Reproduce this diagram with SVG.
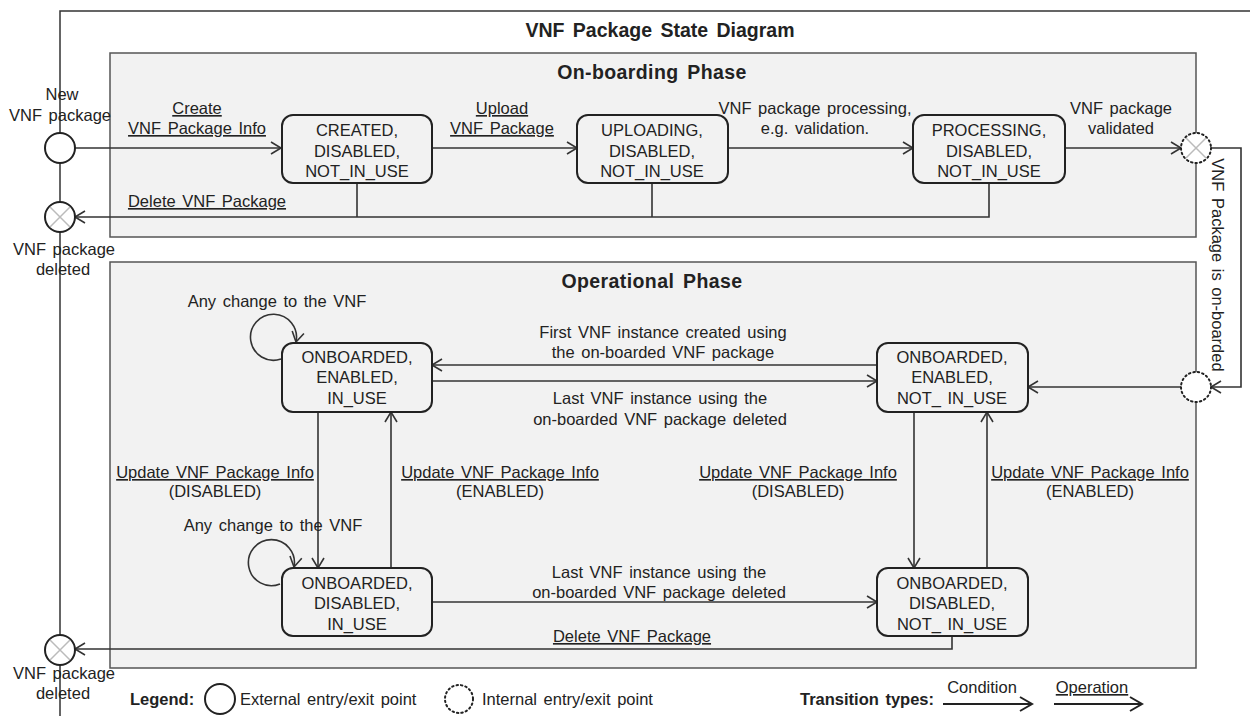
<svg xmlns="http://www.w3.org/2000/svg" width="1250" height="716" viewBox="0 0 1250 716">
<style>
.t{font-family:"Liberation Sans",Arial,sans-serif;font-size:16.5px;word-spacing:2px;fill:#222;text-anchor:middle}
.b{font-weight:bold;font-size:19.5px;word-spacing:3px}
.p{letter-spacing:0.4px}
.u{text-decoration:underline}
.l{text-anchor:start}
.phase{fill:#f2f2f2;stroke:#555;stroke-width:1.5}
.st{fill:#f2f2f2;stroke:#222;stroke-width:2}
.c{fill:none;stroke:#333;stroke-width:1.6}
.ext{fill:#fff;stroke:#222;stroke-width:2}
.int{fill:#fff;stroke:#222;stroke-width:2;stroke-dasharray:1.5 3;stroke-linecap:round}
.x{stroke:#bbb;stroke-width:1.5}
</style>
<defs>
<marker id="a" markerWidth="14" markerHeight="14" refX="12" refY="7" orient="auto" markerUnits="userSpaceOnUse">
<path d="M2,1 L12,7 L2,13" fill="none" stroke="#333" stroke-width="1.6"/>
</marker>
<marker id="a2" markerWidth="16" markerHeight="16" refX="14" refY="8" orient="auto" markerUnits="userSpaceOnUse">
<path d="M2,1 L14,8 L2,15" fill="none" stroke="#222" stroke-width="2"/>
</marker>
</defs>
<rect width="1250" height="716" fill="#fff"/>
<!-- frame -->
<g id="frame">
<path d="M60,716 L60,11 L1250,11" fill="none" stroke="#333" stroke-width="1.5"/>
<text class="t b" x="660" y="37">VNF Package State Diagram</text>
</g>
<!-- phases -->
<g id="onboarding-phase">
<rect class="phase" x="110" y="53" width="1086" height="184"/>
<text class="t b p" x="652" y="79">On-boarding Phase</text>
</g>
<g id="operational-phase">
<rect class="phase" x="110" y="262" width="1086" height="406"/>
<text class="t b p" x="652" y="288">Operational Phase</text>
</g>
<!-- connectors -->
<g id="connectors">
<line class="c" x1="75" y1="148" x2="281" y2="148" marker-end="url(#a)"/>
<line class="c" x1="432" y1="148" x2="577" y2="148" marker-end="url(#a)"/>
<line class="c" x1="728" y1="148" x2="913" y2="148" marker-end="url(#a)"/>
<line class="c" x1="1065" y1="148" x2="1181" y2="148" marker-end="url(#a)"/>
<path class="c" d="M1211,148 L1241,148 L1241,387 L1211,387" marker-end="url(#a)"/>
<line class="c" x1="1181" y1="387" x2="1028" y2="387" marker-end="url(#a)"/>
<path class="c" d="M357,183 L357,217 M652,183 L652,217 M989,183 L989,217 L75,217" marker-end="url(#a)"/>
<line class="c" x1="877" y1="365" x2="432" y2="365" marker-end="url(#a)"/>
<line class="c" x1="432" y1="381" x2="877" y2="381" marker-end="url(#a)"/>
<line class="c" x1="318" y1="412" x2="318" y2="568" marker-end="url(#a)"/>
<line class="c" x1="391" y1="568" x2="391" y2="412" marker-end="url(#a)"/>
<line class="c" x1="914" y1="412" x2="914" y2="568" marker-end="url(#a)"/>
<line class="c" x1="987" y1="568" x2="987" y2="412" marker-end="url(#a)"/>
<line class="c" x1="432" y1="602" x2="877" y2="602" marker-end="url(#a)"/>
<path class="c" d="M952,636 L952,649 L75,649" marker-end="url(#a)"/>
<path class="c" d="M281,359 A23,23 0 1 1 296,342" marker-end="url(#a)"/>
<path class="c" d="M280,584 A23,23 0 1 1 294,567" marker-end="url(#a)"/>
</g>
<!-- connector labels -->
<g id="labels">
<text class="t u" x="197" y="114">Create</text>
<text class="t u" x="197" y="134">VNF Package Info</text>
<text class="t u" x="502" y="114">Upload</text>
<text class="t u" x="502" y="134">VNF Package</text>
<text class="t" x="815" y="114">VNF package processing,</text>
<text class="t" x="815" y="134">e.g. validation.</text>
<text class="t" x="1121" y="114">VNF package</text>
<text class="t" x="1121" y="134">validated</text>
<text class="t u" x="207" y="207">Delete VNF Package</text>
<text class="t" x="1218" y="265" transform="rotate(90 1218 265)" dy="6">VNF Package is on-boarded</text>
<text class="t" x="277" y="307">Any change to the VNF</text>
<text class="t" x="663" y="338">First VNF instance created using</text>
<text class="t" x="663" y="358">the on-boarded VNF package</text>
<text class="t" x="660" y="404">Last VNF instance using the</text>
<text class="t" x="660" y="425">on-boarded VNF package deleted</text>
<text class="t u" x="215" y="478">Update VNF Package Info</text>
<text class="t" x="215" y="497">(DISABLED)</text>
<text class="t u" x="500" y="478">Update VNF Package Info</text>
<text class="t" x="500" y="497">(ENABLED)</text>
<text class="t u" x="798" y="478">Update VNF Package Info</text>
<text class="t" x="798" y="497">(DISABLED)</text>
<text class="t u" x="1090" y="478">Update VNF Package Info</text>
<text class="t" x="1090" y="497">(ENABLED)</text>
<text class="t" x="273" y="531">Any change to the VNF</text>
<text class="t" x="659" y="578">Last VNF instance using the</text>
<text class="t" x="659" y="598">on-boarded VNF package deleted</text>
<text class="t u" x="632" y="642">Delete VNF Package</text>
</g>
<!-- entry/exit points -->
<g id="new-package">
<text class="t" x="62" y="100">New</text>
<text class="t" x="60" y="121">VNF package</text>
<circle class="ext" cx="60" cy="148" r="15"/>
</g>
<g id="deleted-1">
<circle class="ext" cx="60" cy="217" r="15"/>
<path class="x" d="M50,207 L70,227 M70,207 L50,227"/>
<text class="t" x="64" y="255">VNF package</text>
<text class="t" x="63" y="275">deleted</text>
</g>
<g id="deleted-2">
<circle class="ext" cx="60" cy="650" r="15"/>
<path class="x" d="M50,640 L70,660 M70,640 L50,660"/>
<text class="t" x="64" y="679">VNF package</text>
<text class="t" x="63" y="699">deleted</text>
</g>
<g id="internal-exit">
<circle class="int" cx="1196" cy="148" r="15"/>
<path class="x" d="M1186,138 L1206,158 M1206,138 L1186,158"/>
</g>
<g id="internal-entry">
<circle class="int" cx="1196" cy="387" r="15"/>
</g>
<!-- states -->
<g id="created">
<rect class="st" x="282" y="115" width="150" height="68" rx="11"/>
<text class="t" x="357" y="136">CREATED,</text>
<text class="t" x="357" y="157">DISABLED,</text>
<text class="t" x="357" y="177">NOT_IN_USE</text>
</g>
<g id="uploading">
<rect class="st" x="577" y="115" width="151" height="68" rx="11"/>
<text class="t" x="652" y="136">UPLOADING,</text>
<text class="t" x="652" y="157">DISABLED,</text>
<text class="t" x="652" y="177">NOT_IN_USE</text>
</g>
<g id="processing">
<rect class="st" x="913" y="115" width="152" height="68" rx="11"/>
<text class="t" x="989" y="136">PROCESSING,</text>
<text class="t" x="989" y="157">DISABLED,</text>
<text class="t" x="989" y="177">NOT_IN_USE</text>
</g>
<g id="enabled-in-use">
<rect class="st" x="282" y="343" width="150" height="69" rx="11"/>
<text class="t" x="357" y="363">ONBOARDED,</text>
<text class="t" x="357" y="383">ENABLED,</text>
<text class="t" x="357" y="404">IN_USE</text>
</g>
<g id="enabled-not-in-use">
<rect class="st" x="877" y="343" width="151" height="69" rx="11"/>
<text class="t" x="952" y="363">ONBOARDED,</text>
<text class="t" x="952" y="383">ENABLED,</text>
<text class="t" x="952" y="404">NOT_ IN_USE</text>
</g>
<g id="disabled-in-use">
<rect class="st" x="282" y="568" width="150" height="68" rx="11"/>
<text class="t" x="357" y="589">ONBOARDED,</text>
<text class="t" x="357" y="609">DISABLED,</text>
<text class="t" x="357" y="630">IN_USE</text>
</g>
<g id="disabled-not-in-use">
<rect class="st" x="877" y="568" width="151" height="68" rx="11"/>
<text class="t" x="952" y="589">ONBOARDED,</text>
<text class="t" x="952" y="609">DISABLED,</text>
<text class="t" x="952" y="630">NOT_ IN_USE</text>
</g>
<!-- legend -->
<g id="legend">
<text class="t l" x="130" y="705" style="font-weight:bold">Legend:</text>
<circle class="ext" cx="220" cy="699" r="15"/>
<text class="t l" x="240" y="705">External entry/exit point</text>
<circle class="int" cx="459" cy="699" r="14"/>
<text class="t l" x="482" y="705">Internal entry/exit point</text>
<text class="t l" x="800" y="705" style="font-weight:bold">Transition types:</text>
<text class="t" x="982" y="693">Condition</text>
<line x1="943" y1="704" x2="1032" y2="704" stroke="#222" stroke-width="2" marker-end="url(#a2)"/>
<text class="t u" x="1092" y="693">Operation</text>
<line x1="1054" y1="704" x2="1142" y2="704" stroke="#222" stroke-width="2" marker-end="url(#a2)"/>
</g>
</svg>
